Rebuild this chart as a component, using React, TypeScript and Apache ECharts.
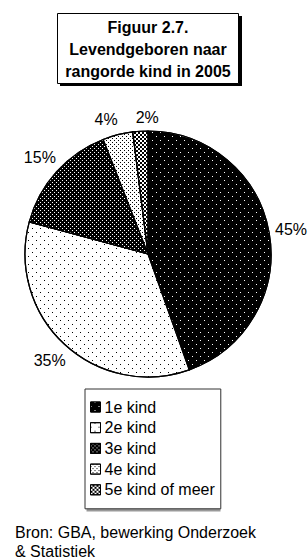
import React, { useEffect, useRef } from "react";
import * as echarts from "echarts";

const categories = ["1e kind", "2e kind", "3e kind", "4e kind", "5e kind of meer"];
const values = [45, 35, 15, 4, 2];
const titleLines = ["Figuur 2.7.", "Levendgeboren naar", "rangorde kind in 2005"];
const sourceLines = ["Bron: GBA, bewerking Onderzoek", "& Statistiek"];

const FONT = "'Liberation Sans', Arial, Helvetica, sans-serif";
const LABEL_SIZE = 16;
const CX = 148;
const CY = 254;
const R = 123;
const LABEL_GAP = 5;
const MIN_LABEL_SEP = 18;

const styles = [
  { color: "#000", decal: { symbol: "rect", symbolSize: 1, color: "#fff", dashArrayX: [[1, 7], [0, 4, 1, 3]], dashArrayY: [1, 3] } },
  { color: "#fff", decal: { symbol: "rect", symbolSize: 1, color: "#000", dashArrayX: [[1, 7], [0, 4, 1, 3]], dashArrayY: [1, 3] } },
  { color: "#000", decal: { symbol: "rect", symbolSize: 1, color: "#fff", dashArrayX: [[1, 3], [0, 2, 1, 1]], dashArrayY: [1, 1] } },
  { color: "#fff", decal: { symbol: "rect", symbolSize: 1, color: "#000", dashArrayX: [[1, 3], [0, 2, 1, 1]], dashArrayY: [1, 1] } },
  { color: "#fff", decal: { symbol: "rect", symbolSize: 1, color: "#000", dashArrayX: [[2, 2], [0, 2, 2, 0]], dashArrayY: [2, 0] } },
];

function computeLabelPositions(): { x: number; y: number }[] {
  const total = values.reduce((a, b) => a + b, 0);
  const canvas = document.createElement("canvas");
  const ctx = canvas.getContext("2d")!;
  ctx.font = `${LABEL_SIZE}px ${FONT}`;
  const h = LABEL_SIZE;
  let acc = 0;
  const boxes = values.map((v) => {
    const mid = ((acc + v / 2) / total) * Math.PI * 2;
    acc += v;
    const ux = Math.sin(mid);
    const uy = -Math.cos(mid);
    const w = ctx.measureText(v + "%").width;
    const ext = Math.abs(ux) * (w / 2) + Math.abs(uy) * (h / 2);
    const d = R + LABEL_GAP + ext;
    return { x: CX + ux * d, y: CY + uy * d, w };
  });
  // push apart labels that sit side by side too closely
  for (let iter = 0; iter < 5; iter++) {
    for (let i = 0; i < boxes.length; i++) {
      for (let j = i + 1; j < boxes.length; j++) {
        const a = boxes[i];
        const b = boxes[j];
        if (Math.abs(a.y - b.y) >= h) continue;
        const left = a.x < b.x ? a : b;
        const right = a.x < b.x ? b : a;
        const gap = right.x - right.w / 2 - (left.x + left.w / 2);
        if (gap < MIN_LABEL_SEP) {
          const s = (MIN_LABEL_SEP - gap) / 2;
          left.x -= s;
          right.x += s;
        }
      }
    }
  }
  return boxes.map((b) => ({ x: b.x, y: b.y }));
}

export default function App() {
  const ref = useRef<HTMLDivElement>(null);
  useEffect(() => {
    document.body.style.margin = "0";
    const chart = echarts.init(ref.current!, null, { renderer: "svg" });
    const labelPos = computeLabelPositions();
    chart.setOption({
      animation: false,
      backgroundColor: "#fff",
      textStyle: { fontFamily: FONT },
      title: [
        {
          text: titleLines.join("\n"),
          left: CX,
          top: 16.5,
          textAlign: "center",
          textStyle: { fontFamily: FONT, fontSize: 16, fontWeight: "bold", color: "#000", lineHeight: 22 },
          padding: 0,
          z: 10,
        },
        {
          text: sourceLines[0],
          left: 15,
          top: 525,
          textStyle: { fontFamily: FONT, fontSize: 16, fontWeight: "normal", color: "#000", lineHeight: 14 },
          padding: 0,
        },
        {
          text: sourceLines[1],
          left: 15,
          top: 544.5,
          textStyle: { fontFamily: FONT, fontSize: 16, fontWeight: "normal", color: "#000", lineHeight: 14 },
          padding: 0,
        },
      ],
      graphic: [
        { type: "rect", shape: { x: 60, y: 16, width: 182, height: 70 }, style: { fill: "#000" }, z: 1 },
        { type: "rect", shape: { x: 57.5, y: 13.5, width: 181, height: 70 }, style: { fill: "#fff", stroke: "#000", lineWidth: 1 }, z: 2 },
        { type: "rect", shape: { x: 86.5, y: 390.5, width: 134, height: 121 }, style: { fill: "#999" }, z: 0 },
      ],
      legend: {
        orient: "vertical",
        left: 85,
        top: 389,
        padding: [9, 6, 10, 5],
        itemGap: 2.7,
        itemWidth: 10,
        itemHeight: 10,
        backgroundColor: "#fff",
        borderColor: "#333",
        borderWidth: 1,
        data: categories,
        textStyle: { fontFamily: FONT, fontSize: 16, color: "#000", lineHeight: 18, padding: [0, 0, 0, -1] },
        itemStyle: { borderColor: "#000", borderWidth: 1 },
        icon: "rect",
      },
      series: [
        {
          type: "pie",
          center: [CX, CY],
          radius: R,
          startAngle: 90,
          clockwise: true,
          avoidLabelOverlap: false,
          data: categories.map((c, i) => ({ name: c, value: values[i], itemStyle: styles[i] })),
          itemStyle: { borderColor: "#000", borderWidth: 1.2 },
          label: {
            show: true,
            position: "outside",
            formatter: (p: any) => p.value + "%",
            fontFamily: FONT,
            fontSize: LABEL_SIZE,
            color: "#000",
          },
          labelLine: { show: false },
          labelLayout: (params: any) => {
            const p = labelPos[params.dataIndex];
            return { x: p.x, y: p.y, align: "center", verticalAlign: "middle" };
          },
          emphasis: { disabled: true },
        },
      ],
    });
    return () => chart.dispose();
  }, []);
  return <div ref={ref} style={{ position: "absolute", left: 0, top: 0, width: 308, height: 559 }} />;
}
